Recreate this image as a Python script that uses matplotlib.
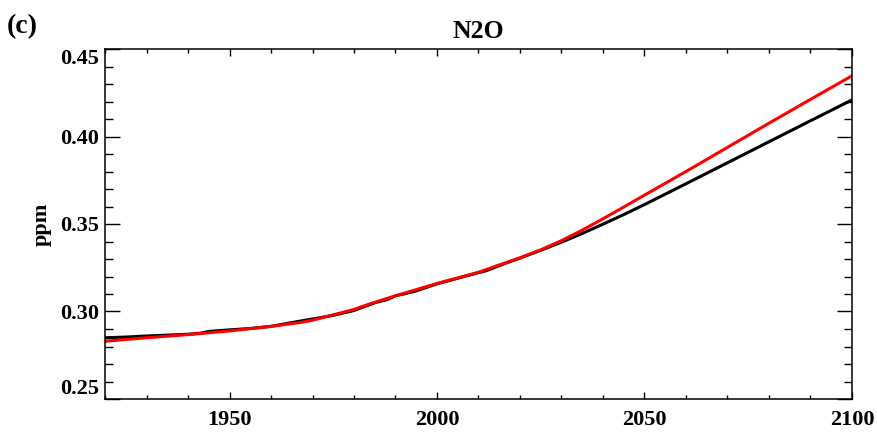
import matplotlib
matplotlib.use('Agg')
import matplotlib.pyplot as plt
from matplotlib.ticker import MultipleLocator, FormatStrFormatter

# N2O concentration, black = reference run, red = fitted curve
years_black = [1920, 1925, 1930, 1935, 1940, 1943, 1945, 1950, 1955, 1960, 1967, 1970, 1975,
               1980, 1985, 1988, 1990, 1992, 1995, 2000, 2005, 2010, 2012, 2015, 2017, 2020,
               2025, 2030, 2035, 2040, 2045, 2050, 2060, 2070, 2080, 2090, 2100]
n2o_black = [0.2850, 0.2854, 0.2860, 0.2865, 0.2870, 0.2876, 0.2886, 0.2895, 0.2903, 0.2915,
             0.2945, 0.2957, 0.2978, 0.3006, 0.3050, 0.3068, 0.3090, 0.3100, 0.3118, 0.3158,
             0.3190, 0.3222, 0.3234, 0.3262, 0.3280, 0.3305, 0.3350, 0.3396, 0.3446, 0.3499,
             0.3554, 0.3611, 0.3730, 0.3850, 0.3970, 0.4090, 0.4209]

years_red = [1920, 1930, 1940, 1950, 1960, 1967, 1970, 1980, 1984, 1990, 2000, 2010, 2015,
             2020, 2025, 2030, 2035, 2040, 2045, 2050, 2060, 2070, 2080, 2090, 2100]
n2o_red = [0.2830, 0.2850, 0.2868, 0.2889, 0.2915, 0.2937, 0.2950, 0.3012, 0.3045, 0.3090,
           0.3160, 0.3224, 0.3266, 0.3307, 0.3352, 0.3405, 0.3465, 0.3530, 0.3597, 0.3665,
           0.3800, 0.3938, 0.4076, 0.4212, 0.4347]

plt.rcParams['font.family'] = ['Liberation Serif', 'DejaVu Serif']
plt.rcParams['font.weight'] = 'bold'

fig = plt.figure(figsize=(8.77, 4.32), dpi=100)
ax = fig.add_axes([105 / 877, 1 - 399 / 432, 747 / 877, 350 / 432])

ax.plot(years_black, n2o_black, color='black', lw=2.2)
ax.plot(years_red, n2o_red, color='#ff0000', lw=2.2)

ax.set_xlim(1920, 2100)
ax.set_ylim(0.25, 0.45)
ax.xaxis.set_major_locator(MultipleLocator(50))
ax.xaxis.set_minor_locator(MultipleLocator(10))
ax.yaxis.set_major_locator(MultipleLocator(0.05))
ax.yaxis.set_minor_locator(MultipleLocator(0.01))
ax.yaxis.set_major_formatter(FormatStrFormatter('%.2f'))
ax.xaxis.set_major_formatter(FormatStrFormatter('%d'))

for s in ax.spines.values():
    s.set_linewidth(1.1)

ax.tick_params(axis='x', which='major', direction='in', length=5, width=1, top=True, labelsize=16, pad=8)
ax.tick_params(axis='x', which='minor', direction='in', length=2.8, width=1, top=True)
ax.tick_params(axis='y', which='major', direction='in', length=10.8, width=1, right=True, labelsize=16, pad=4)
ax.tick_params(axis='y', which='minor', direction='in', length=5.8, width=1, right=True)

# hide the 1920 label and keep the end y labels inside the frame, like the original
fig.canvas.draw()
for lab in ax.get_xticklabels():
    if lab.get_text() == '1920':
        lab.set_visible(False)
for lab in ax.get_yticklabels():
    if lab.get_text() == '0.45':
        lab.set_va('top')
    elif lab.get_text() == '0.25':
        lab.set_va('bottom')

ax.set_title('N2O', fontsize=18.5, fontweight='bold', pad=8)
ax.set_ylabel('ppm', fontsize=16, fontweight='bold', labelpad=6)
fig.text(7 / 877, 1 - 33 / 432, '(c)', fontsize=20, fontweight='bold')

fig.savefig('out.png', dpi=100)
